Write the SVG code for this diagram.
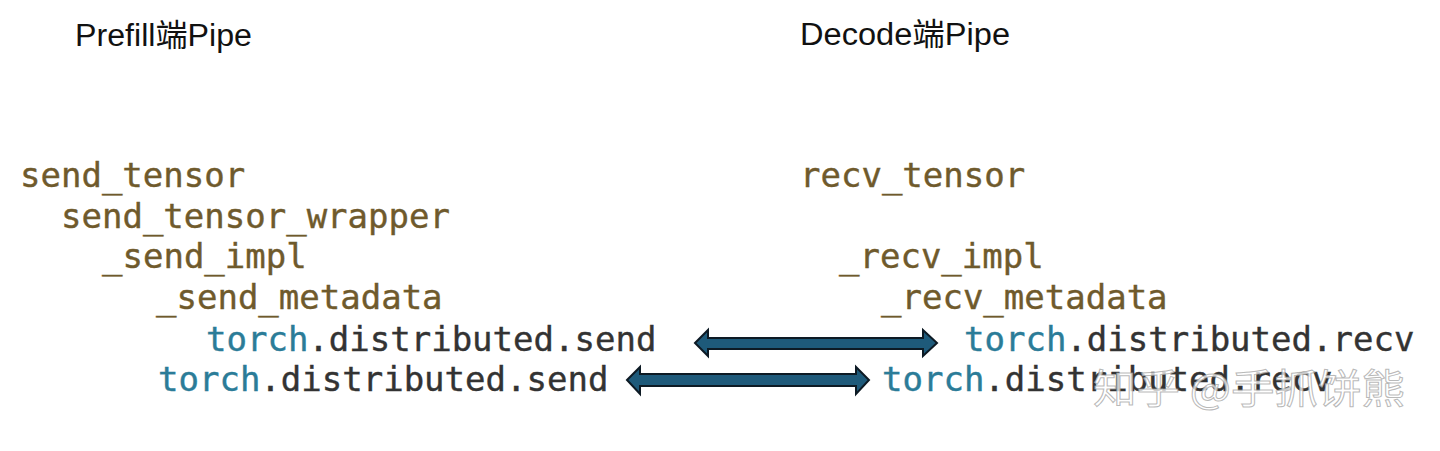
<svg xmlns="http://www.w3.org/2000/svg" width="1440" height="451" viewBox="0 0 1440 451">
<style>
.title{font-family:"Liberation Sans","Noto Sans CJK SC",sans-serif;font-size:31px;fill:#111}
.code{font-family:"DejaVu Sans Mono",monospace;font-size:34px;stroke-width:0.4}
.fn{fill:#6f5a2c;stroke:#6f5a2c}
.mod{fill:#2b7c98;stroke:#2b7c98}
.dk{fill:#333333;stroke:#333333}
.arrow{fill:#1e5a7a;stroke:#0d1a24;stroke-width:2;stroke-linejoin:miter}
.wm{font-family:"Noto Sans CJK SC",sans-serif;font-size:40px;fill:#ffffff;fill-opacity:0.75;stroke:#9a9a9a;stroke-width:1;stroke-opacity:0.7}
</style>
<rect width="1440" height="451" fill="#ffffff"/>
<g id="title-prefill"><text class="title" x="75" y="46" textLength="177" lengthAdjust="spacingAndGlyphs">Prefill端Pipe</text></g>
<g id="title-decode"><text class="title" x="800" y="45" textLength="210" lengthAdjust="spacingAndGlyphs">Decode端Pipe</text></g>
<g id="prefill-stack">
<text class="code fn" x="20" y="187">send_tensor</text>
<text class="code fn" x="61" y="228">send_tensor_wrapper</text>
<text class="code fn" x="102" y="268">_send_impl</text>
<text class="code fn" x="156" y="309">_send_metadata</text>
<text class="code" x="206" y="351"><tspan class="mod">torch</tspan><tspan class="dk">.distributed.send</tspan></text>
<text class="code" x="158" y="391"><tspan class="mod">torch</tspan><tspan class="dk">.distributed.send</tspan></text>
</g>
<g id="decode-stack">
<text class="code fn" x="800" y="187">recv_tensor</text>
<text class="code fn" x="839" y="268">_recv_impl</text>
<text class="code fn" x="881" y="309">_recv_metadata</text>
<text class="code" x="964" y="351"><tspan class="mod">torch</tspan><tspan class="dk">.distributed.recv</tspan></text>
<text class="code" x="882" y="391"><tspan class="mod">torch</tspan><tspan class="dk">.distributed.recv</tspan></text>
</g>
<g id="connectors">
<path class="arrow" d="M695,343 L708,330 L708,338 L923,338 L923,330 L937,343 L923,356 L923,349 L708,349 L708,356 Z"/>
<path class="arrow" d="M627,380 L640,367 L640,374 L856,374 L856,367 L869,380 L856,394 L856,386 L640,386 L640,394 Z"/>
</g>
<g id="watermark"><text class="wm" x="1093" y="403" textLength="312" lengthAdjust="spacingAndGlyphs">知乎 @手抓饼熊</text></g>
</svg>
